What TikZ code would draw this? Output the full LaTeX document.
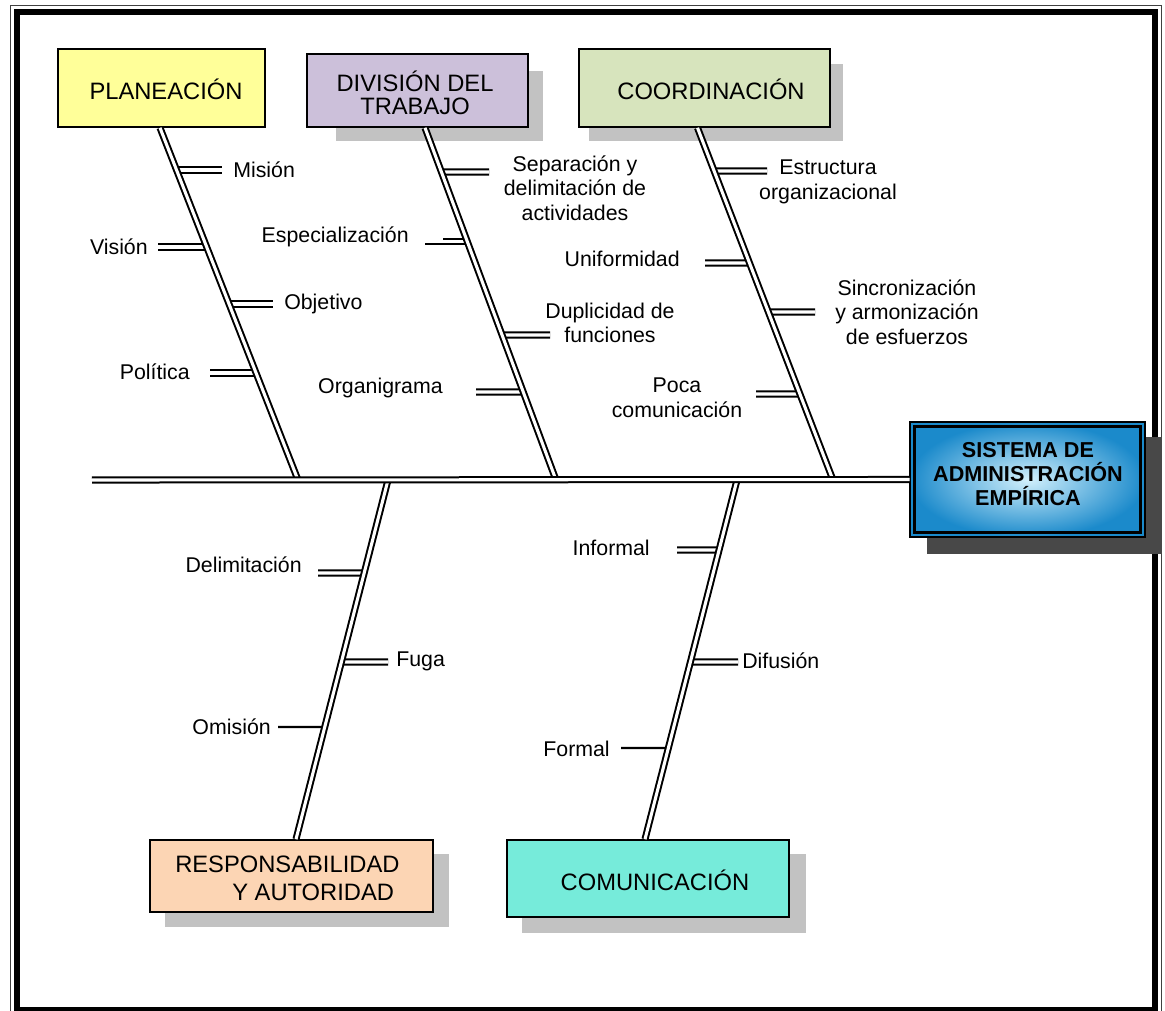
\documentclass[tikz,border=0pt]{standalone}
\usepackage{fontspec}
\setmainfont{Liberation Sans}
\usetikzlibrary{calc}

\definecolor{planfill}{HTML}{FFFF99}
\definecolor{divfill}{HTML}{CCC0DA}
\definecolor{coordfill}{HTML}{D7E4BD}
\definecolor{respfill}{HTML}{FCD5B4}
\definecolor{comfill}{HTML}{76EBDA}
\definecolor{sysin}{HTML}{D2F0FC}
\definecolor{sysout}{HTML}{1B8ACB}
\definecolor{shadowlight}{HTML}{C2C2C2}
\definecolor{shadowdark}{HTML}{484848}

% point of a bone at a given height
\newcommand\twigat[4]{\coordinate (#1) at (intersection cs: first line={(#2)--(#3)}, second line={(0,#4)--(100,#4)});}

\tikzset{
  bone/.style={draw=black, line width=1.5pt, double=white, double distance=2.3pt},
  stub/.style={draw=black, line width=1.7pt},
  lbl/.style={inner sep=0pt, font=\fontsize{16}{18.4}\selectfont, align=center},
  catbox/.style={draw=black, line width=1.2pt, inner sep=0pt},
  cattext/.style={inner sep=0pt, font=\fontsize{17.8}{17.4}\selectfont, align=center},
}

\begin{document}
\begin{tikzpicture}[x=0.75pt,y=-0.75pt]
\useasboundingbox (0,0) rectangle (1165,1011);

% page frame
\draw[line width=0.8pt, black!75] (10.5,5.5) rectangle (1161.5,1016);
\draw[line width=4.5pt] (17,11.5) rectangle (1155,1010);

% category boxes
\node[catbox, fill=planfill, minimum width=155.25pt, minimum height=58.5pt] (b1) at (161.5,88) {};
\node[catbox, fill=divfill, minimum width=165.75pt, minimum height=54.75pt] (b2) at (417.5,90.5) {};
\node[catbox, fill=coordfill, minimum width=188.25pt, minimum height=58.5pt] (b3) at (704.5,88) {};
\node[catbox, fill=respfill, minimum width=212.25pt, minimum height=54pt] (rb) at (291.5,876) {};
\node[catbox, fill=comfill, minimum width=211.5pt, minimum height=57.75pt] (cb) at (648,878.5) {};
\node[inner sep=0pt, minimum width=176.25pt, minimum height=86.25pt] (sys) at (1027.5,479.5) {};

% drop shadows
\fill[shadowlight] ([shift={(30,18)}]b2.north west) rectangle ([shift={(14,13)}]b2.south east);
\fill[shadowlight] ([shift={(11,16)}]b3.north west) rectangle ([shift={(12,13)}]b3.south east);
\fill[shadowlight] ([shift={(16,15)}]rb.north west) rectangle ([shift={(15,14)}]rb.south east);
\fill[shadowlight] ([shift={(16,15)}]cb.north west) rectangle ([shift={(16,15)}]cb.south east);
\fill[shadowdark] ([shift={(17,15)}]sys.north west) rectangle ([shift={(17,17)}]sys.south east);

% boxes again on top of their shadows
\node[catbox, fill=divfill, minimum width=165.75pt, minimum height=54.75pt] at (b2) {};
\node[catbox, fill=coordfill, minimum width=188.25pt, minimum height=58.5pt] at (b3) {};
\node[catbox, fill=respfill, minimum width=212.25pt, minimum height=54pt] at (rb) {};
\node[catbox, fill=comfill, minimum width=211.5pt, minimum height=57.75pt] at (cb) {};

% effect box with gradient and double border
\shade[shading=radial, inner color=sysin, outer color=sysout] (sys.north west) rectangle (sys.south east);
\draw[line width=1.2pt] (sys.north west) rectangle (sys.south east);
\draw[line width=2.2pt] ([shift={(5,5)}]sys.north west) rectangle ([shift={(-5,-5)}]sys.south east);

% box texts
\node[cattext] (t1) at (166,89) {PLANEACIÓN};
\node[cattext] (t2) at (415,92.5) {DIVISIÓN DEL\\TRABAJO};
\node[cattext] (t3) at (711,89) {COORDINACIÓN};
\node[cattext, align=left, font=\fontsize{17.8}{21}\selectfont, anchor=west] (t4) at (175,878) {RESPONSABILIDAD\\\hspace*{42.75pt}Y AUTORIDAD};
\node[cattext] (t5) at (655,880) {COMUNICACIÓN};
\node[inner sep=0pt, align=center, font=\fontsize{16.2}{18}\bfseries] (t6) at (1028,474.5) {SISTEMA DE\\ADMINISTRACIÓN\\EMPÍRICA};

% spine points
\coordinate (tail) at (92,480);
\coordinate (s1) at (298,480);
\coordinate (s2) at (556,480);
\coordinate (s3) at (833,480);
\coordinate (s4) at (388,480);
\coordinate (s5) at (737,480);

% bone ends on the boxes
\coordinate (k1) at ([shift={(-1.5,0)}]b1.south);
\coordinate (k2) at ([shift={(7.5,0)}]b2.south);
\coordinate (k3) at ([shift={(-7,0)}]b3.south);
\coordinate (k4) at ([shift={(4.5,0)}]rb.north);
\coordinate (k5) at ([shift={(-3,0)}]cb.north);

% where the twigs meet the bones
\twigat{m11}{k1}{s1}{170}
\twigat{m12}{k1}{s1}{247}
\twigat{m13}{k1}{s1}{304}
\twigat{m14}{k1}{s1}{373}
\twigat{m21}{k2}{s2}{172}
\twigat{m22}{k2}{s2}{241}
\twigat{m23}{k2}{s2}{335}
\twigat{m24}{k2}{s2}{392}
\twigat{m31}{k3}{s3}{171}
\twigat{m32}{k3}{s3}{263}
\twigat{m33}{k3}{s3}{312}
\twigat{m34}{k3}{s3}{394}
\twigat{m41}{s4}{k4}{573}
\twigat{m42}{s4}{k4}{662}
\twigat{m43}{s4}{k4}{727}
\twigat{m51}{s5}{k5}{550}
\twigat{m52}{s5}{k5}{662}
\twigat{m53}{s5}{k5}{748}

% free ends of the twigs
\coordinate (e11) at (222,170);
\coordinate (e12) at (158,247);
\coordinate (e13) at (273,304);
\coordinate (e14) at (210,373);
\coordinate (e21) at (489,172);
\coordinate (e22) at (443,239.3);
\coordinate (e22b) at (425,243.7);
\coordinate (e23) at (550,335);
\coordinate (e24) at (476,392);
\coordinate (e31) at (767,171);
\coordinate (e32) at (705,263);
\coordinate (e33) at (815,312);
\coordinate (e34) at (756,394);
\coordinate (e41) at (318,573);
\coordinate (e42) at (388,662);
\coordinate (e43) at (278,727);
\coordinate (e51) at (677,550);
\coordinate (e52) at (738,662);
\coordinate (e53) at (621,748);

% twigs
\foreach \a/\b in {m11/e11, m12/e12, m13/e13, m14/e14, m21/e21, m23/e23, m24/e24,
                   m31/e31, m32/e32, m33/e33, m34/e34, m41/e41, m42/e42, m51/e51, m52/e52}
  \draw[bone] (\a) -- (\b);
\draw[stub, line width=1.5pt] (e22) -- (e22 -| m22);
\draw[stub, line width=1.5pt] (e22b) -- (e22b -| m22);
\draw[stub] (e43) -- (m43);
\draw[stub] (e53) -- (m53);

% bones
\draw[bone] (k1) -- (s1);
\draw[bone] (k2) -- (s2);
\draw[bone] (k3) -- (s3);
\draw[bone] (s4) -- (k4);
\draw[bone] (s5) -- (k5);

% spine
\draw[bone] (tail) -- (sys.west);

% cause labels
\node[lbl, anchor=west] (l11) at (233,170) {Misión};
\node[lbl, anchor=east] (l12) at (148,247) {Visión};
\node[lbl, anchor=west] (l13) at (284,304) {Objetivo};
\node[lbl, anchor=east] (l14) at (190,372) {Política};
\node[lbl] (l21) at (575,188) {Separación y\\delimitación de\\actividades};
\node[lbl, anchor=east] (l22) at (409,237) {Especialización};
\node[lbl] (l23) at (610,323) {Duplicidad de\\funciones};
\node[lbl, anchor=east] (l24) at (443,388) {Organigrama};
\node[lbl] (l31) at (828,182) {Estructura\\organizacional};
\node[lbl, anchor=east] (l32) at (680,259) {Uniformidad};
\node[lbl] (l33) at (907,312) {Sincronización\\y armonización\\de esfuerzos};
\node[lbl] (l34) at (677,398) {Poca\\comunicación};
\node[lbl, anchor=east] (l41) at (302,565) {Delimitación};
\node[lbl, anchor=west] (l42) at (396,661) {Fuga};
\node[lbl, anchor=east] (l43) at (271,727) {Omisión};
\node[lbl, anchor=east] (l51) at (650,548) {Informal};
\node[lbl, anchor=west] (l52) at (742,661) {Difusión};
\node[lbl, anchor=east] (l53) at (610,749) {Formal};
\end{tikzpicture}
\end{document}
